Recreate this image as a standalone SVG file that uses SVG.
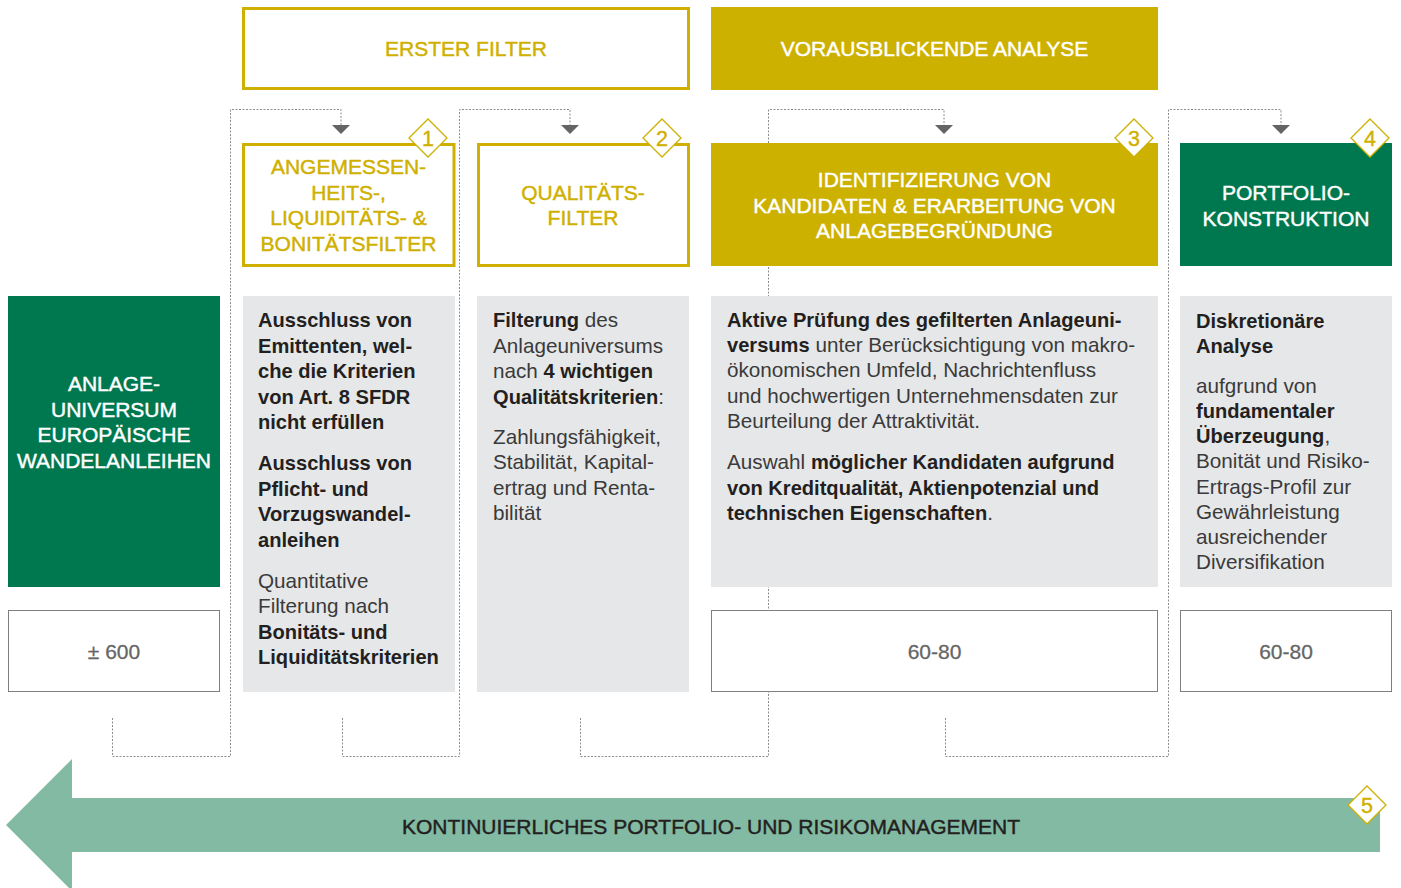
<svg xmlns="http://www.w3.org/2000/svg" width="1401" height="888" viewBox="0 0 1401 888">
<style>
text{font-family:"Liberation Sans",Arial,Helvetica,sans-serif}
.cap{font-size:21px;text-anchor:middle;stroke-width:0.45px}
.gold{fill:#CFB000;stroke:#CFB000}
.wh{fill:#FFFFFF;stroke:#FFFFFF}
.dk{fill:#231F20;stroke:#231F20}
.body{font-size:20.7px;fill:#3A3A3A}
.b{font-size:20.1px;font-weight:bold;fill:#231F20}
.num{font-size:21px;text-anchor:middle;fill:#666666;stroke:#666666;stroke-width:0.3px}
.conn{fill:none;stroke:#8C8C8C;stroke-width:1;stroke-dasharray:2 1.5}
.ah{fill:#636466}
.obox{fill:#FFFFFF;stroke:#CFB000;stroke-width:3}
.gbox{fill:#CDB100}
.grn{fill:#00784F}
.grey{fill:#E6E7E8}
.cnt{fill:#FFFFFF;stroke:#7F7F7F;stroke-width:1}
.dia{fill:#FFFFFF;stroke:#CFB000;stroke-width:1.3}
.dn{font-size:21.5px;text-anchor:middle;fill:#CFB000;stroke:#CFB000;stroke-width:0.4px}
</style>

<g id="connectors">
<path class="conn" d="M112.5,718 V756.5 H230.5 V109.5 H341 V125"/>
<path class="conn" d="M342.5,718 V756.5 H459.5 V109.5 H570 V125"/>
<path class="conn" d="M580.5,718 V756.5 H768.5 V109.5 H944 V125"/>
<path class="conn" d="M945.5,718 V756.5 H1168.5 V109.5 H1281 V125"/>
<polygon class="ah" points="332,125 350,125 341,134"/>
<polygon class="ah" points="561,125 579,125 570,134"/>
<polygon class="ah" points="935,125 953,125 944,134"/>
<polygon class="ah" points="1272,125 1290,125 1281,134"/>
</g>

<g id="erster-filter">
<rect class="obox" x="243.5" y="8.5" width="445" height="80"/>
<text class="cap gold" x="466" y="56">ERSTER FILTER</text>
</g>

<g id="vorausblickende-analyse">
<rect class="gbox" x="711" y="7" width="447" height="83"/>
<text class="cap wh" x="934.5" y="56">VORAUSBLICKENDE ANALYSE</text>
</g>

<g id="step1">
<rect class="obox" x="243.5" y="144.5" width="210.5" height="121"/>
<text class="cap gold" x="348.5" y="173.5">ANGEMESSEN-</text>
<text class="cap gold" x="348.5" y="199.5">HEITS-,</text>
<text class="cap gold" x="348.5" y="225">LIQUIDITÄTS- &amp;</text>
<text class="cap gold" x="348.5" y="250.5">BONITÄTSFILTER</text>
<polygon class="dia" points="428,119 447,138 428,157 409,138"/>
<text class="dn" x="428" y="146">1</text>
</g>

<g id="step2">
<rect class="obox" x="478.5" y="144.5" width="210" height="121"/>
<text class="cap gold" x="583" y="199.5">QUALITÄTS-</text>
<text class="cap gold" x="583" y="225">FILTER</text>
<polygon class="dia" points="662,119 681,138 662,157 643,138"/>
<text class="dn" x="662" y="146">2</text>
</g>

<g id="step3">
<rect class="gbox" x="711" y="143" width="447" height="123"/>
<text class="cap wh" x="934.5" y="187">IDENTIFIZIERUNG VON</text>
<text class="cap wh" x="934.5" y="212.5">KANDIDATEN &amp; ERARBEITUNG VON</text>
<text class="cap wh" x="934.5" y="238">ANLAGEBEGRÜNDUNG</text>
<polygon class="dia" points="1134,119 1153,138 1134,157 1115,138"/>
<text class="dn" x="1134" y="146">3</text>
</g>

<g id="step4">
<rect class="grn" x="1180" y="143" width="212" height="123"/>
<text class="cap wh" x="1286" y="200">PORTFOLIO-</text>
<text class="cap wh" x="1286" y="225.5">KONSTRUKTION</text>
<polygon class="dia" points="1370,119 1389,138 1370,157 1351,138"/>
<text class="dn" x="1370" y="146">4</text>
</g>

<g id="universe">
<rect class="grn" x="8" y="296" width="212" height="291"/>
<text class="cap wh" x="114" y="391">ANLAGE-</text>
<text class="cap wh" x="114" y="416.5">UNIVERSUM</text>
<text class="cap wh" x="114" y="442">EUROPÄISCHE</text>
<text class="cap wh" x="114" y="467.5">WANDELANLEIHEN</text>
</g>

<g id="universe-count">
<rect class="cnt" x="8.5" y="610.5" width="211" height="81"/>
<text class="num" x="114" y="659">± 600</text>
</g>

<g id="desc1">
<rect class="grey" x="243" y="296" width="212" height="396"/>
<text class="body b" x="258" y="327">Ausschluss von</text>
<text class="body b" x="258" y="352.5">Emittenten, wel-</text>
<text class="body b" x="258" y="378">che die Kriterien</text>
<text class="body b" x="258" y="403.5">von Art. 8 SFDR</text>
<text class="body b" x="258" y="428.5">nicht erfüllen</text>
<text class="body b" x="258" y="470">Ausschluss von</text>
<text class="body b" x="258" y="495.5">Pflicht- und</text>
<text class="body b" x="258" y="521">Vorzugswandel-</text>
<text class="body b" x="258" y="546.5">anleihen</text>
<text class="body" x="258" y="588">Quantitative</text>
<text class="body" x="258" y="613">Filterung nach</text>
<text class="body b" x="258" y="638.5">Bonitäts- und</text>
<text class="body b" x="258" y="663.5">Liquiditätskriterien</text>
</g>

<g id="desc2">
<rect class="grey" x="477" y="296" width="212" height="396"/>
<text class="body" x="493" y="327"><tspan class="b">Filterung</tspan> des</text>
<text class="body" x="493" y="352.5">Anlageuniversums</text>
<text class="body" x="493" y="378">nach <tspan class="b">4 wichtigen</tspan></text>
<text class="body" x="493" y="403.5"><tspan class="b">Qualitätskriterien</tspan>:</text>
<text class="body" x="493" y="443.5">Zahlungsfähigkeit,</text>
<text class="body" x="493" y="469">Stabilität, Kapital-</text>
<text class="body" x="493" y="494.5">ertrag und Renta-</text>
<text class="body" x="493" y="520">bilität</text>
</g>

<g id="desc3">
<rect class="grey" x="711" y="296" width="447" height="291"/>
<text class="body b" x="727" y="327">Aktive Prüfung des gefilterten Anlageuni-</text>
<text class="body" x="727" y="352"><tspan class="b">versums</tspan> unter Berücksichtigung von makro-</text>
<text class="body" x="727" y="377">ökonomischen Umfeld, Nachrichtenfluss</text>
<text class="body" x="727" y="402.5">und hochwertigen Unternehmensdaten zur</text>
<text class="body" x="727" y="427.5">Beurteilung der Attraktivität.</text>
<text class="body" x="727" y="469">Auswahl <tspan class="b">möglicher Kandidaten aufgrund</tspan></text>
<text class="body b" x="727" y="494.5">von Kreditqualität, Aktienpotenzial und</text>
<text class="body" x="727" y="519.5"><tspan class="b">technischen Eigenschaften</tspan>.</text>
</g>

<g id="count3">
<rect class="cnt" x="711.5" y="610.5" width="446" height="81"/>
<text class="num" x="934.5" y="659">60-80</text>
</g>

<g id="desc4">
<rect class="grey" x="1180" y="296" width="212" height="291"/>
<text class="body b" x="1196" y="327.5">Diskretionäre</text>
<text class="body b" x="1196" y="352.5">Analyse</text>
<text class="body" x="1196" y="393">aufgrund von</text>
<text class="body b" x="1196" y="418">fundamentaler</text>
<text class="body" x="1196" y="443"><tspan class="b">Überzeugung</tspan>,</text>
<text class="body" x="1196" y="468">Bonität und Risiko-</text>
<text class="body" x="1196" y="493.5">Ertrags-Profil zur</text>
<text class="body" x="1196" y="518.5">Gewährleistung</text>
<text class="body" x="1196" y="544">ausreichender</text>
<text class="body" x="1196" y="569">Diversifikation</text>
</g>

<g id="count4">
<rect class="cnt" x="1180.5" y="610.5" width="211" height="81"/>
<text class="num" x="1286" y="659">60-80</text>
</g>

<g id="risk-management">
<polygon fill="#82BAA4" points="72,759 6,825 72,891 72,852 1380,852 1380,798 72,798"/>
<text class="cap dk" x="711" y="834">KONTINUIERLICHES PORTFOLIO- UND RISIKOMANAGEMENT</text>
<polygon class="dia" points="1367,786 1386,805 1367,824 1348,805"/>
<text class="dn" x="1367" y="813">5</text>
</g>
</svg>
